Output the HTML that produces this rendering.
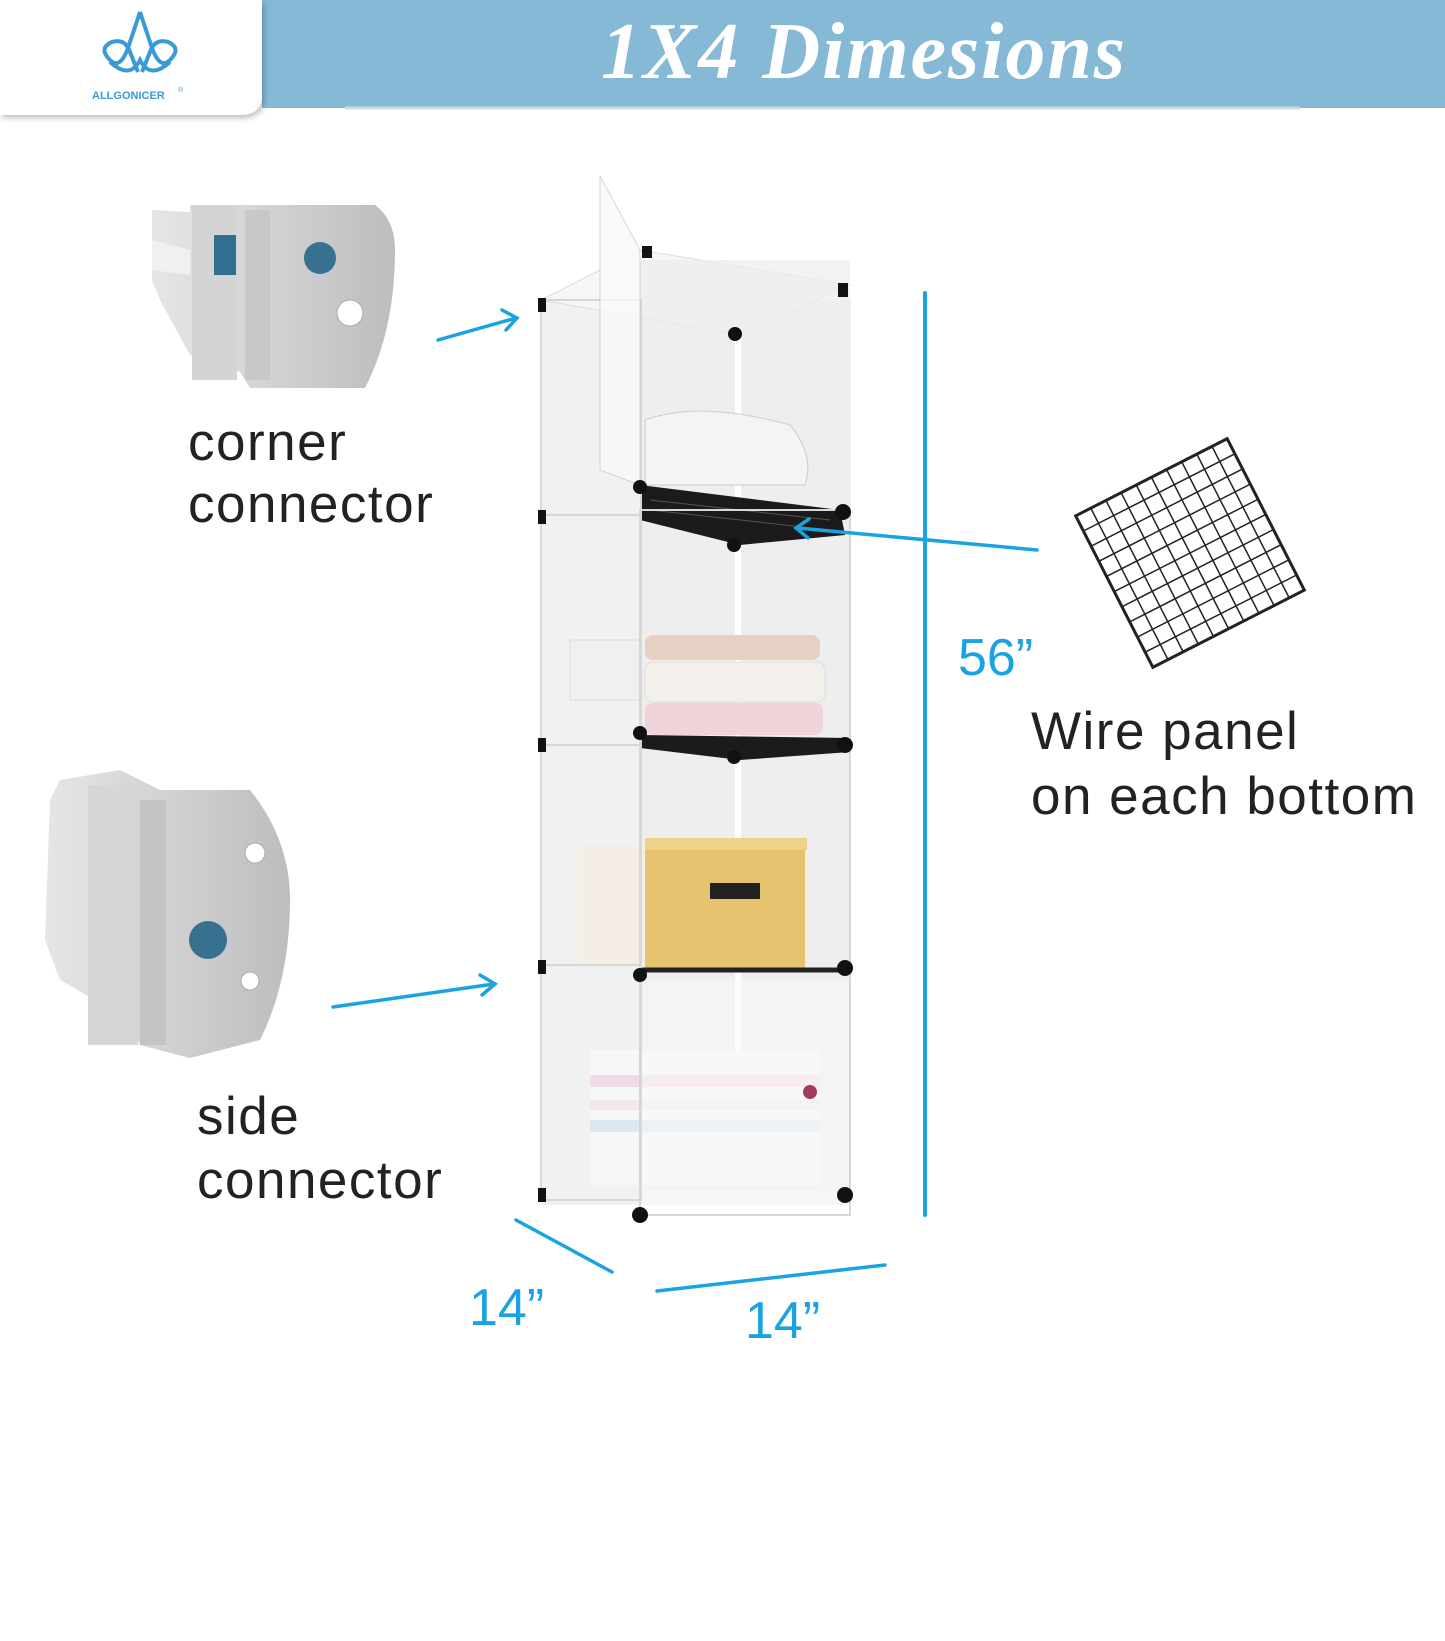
<!DOCTYPE html>
<html><head><meta charset="utf-8"><style>
html,body{margin:0;padding:0;background:#fff;}
svg{display:block;}
</style></head><body>
<svg width="1445" height="1641" viewBox="0 0 1445 1641" xmlns="http://www.w3.org/2000/svg" font-family="Liberation Sans, sans-serif">
<defs>
<linearGradient id="cg" x1="0" x2="1"><stop offset="0" stop-color="#e6e6e6"/><stop offset="1" stop-color="#bdbdbd"/></linearGradient>
<filter id="sh" x="-10%" y="-10%" width="130%" height="130%"><feDropShadow dx="2" dy="3" stdDeviation="3" flood-color="#000" flood-opacity="0.25"/></filter>
</defs>
<rect x="262" y="0" width="1183" height="108" fill="#85b9d6"/>
<line x1="345" y1="108" x2="1300" y2="108" stroke="#c9dde9" stroke-width="3"/>
<text x="864" y="78" text-anchor="middle" font-family="Liberation Serif, serif" font-style="italic" font-weight="bold" font-size="80" letter-spacing="2" fill="#fff">1X4 Dimesions</text>
<path d="M0 0 H262 V95 Q262 115 240 115 H0 Z" fill="#fff" filter="url(#sh)"/>
<g fill="none" stroke="#3a9ad6" stroke-width="4">
<path d="M140 12 L128 48 Q120 70 110 60 Q98 48 112 42 Q125 38 130 52 L138 72"/>
<path d="M140 12 L152 48 Q160 70 170 60 Q182 48 168 42 Q155 38 150 52 L142 72"/>
<path d="M110 62 Q130 80 140 60 Q150 80 170 62"/>
</g>
<text x="92" y="99" font-size="11" font-weight="bold" fill="#3a9ad6">ALLGONICER</text>
<text x="178" y="92" font-size="7" fill="#3a9ad6">®</text>
<g>
<path d="M152 210 L190 212 L190 205 L375 205 Q395 220 395 250 Q395 330 365 388 L250 388 L240 372 L190 355 L160 300 L152 280 Z" fill="url(#cg)"/>
<rect x="192" y="205" width="45" height="175" fill="#d4d4d4"/>
<rect x="245" y="210" width="25" height="170" fill="#c8c8c8"/>
<rect x="214" y="235" width="22" height="40" fill="#2f6f8f"/>
<circle cx="320" cy="258" r="16" fill="#37718f"/>
<circle cx="350" cy="313" r="13" fill="#fff" stroke="#aaa"/>
<path d="M152 240 L190 250 L190 275 L152 270 Z" fill="#f0f0f0"/>
</g>
<text x="188" y="460" font-size="53" letter-spacing="1.5" fill="#222">corner</text>
<text x="188" y="522" font-size="53" letter-spacing="1.5" fill="#222">connector</text>
<g>
<path d="M60 780 L120 770 L160 790 L250 790 Q290 840 290 900 Q290 980 260 1040 L190 1058 L140 1045 L130 1020 L60 980 L45 940 L50 800 Z" fill="url(#cg)"/>
<rect x="88" y="785" width="50" height="260" fill="#d6d6d6"/>
<rect x="140" y="800" width="26" height="245" fill="#c4c4c4"/>
<circle cx="208" cy="940" r="19" fill="#37718f"/>
<circle cx="255" cy="853" r="10" fill="#fff" stroke="#aaa"/>
<circle cx="250" cy="981" r="9" fill="#fff" stroke="#aaa"/>
</g>
<text x="197" y="1134" font-size="53" letter-spacing="1.5" fill="#222">side</text>
<text x="197" y="1198" font-size="53" letter-spacing="1.5" fill="#222">connector</text>
<g>
<rect x="541" y="300" width="310" height="905" fill="#f1f1f1"/>
<polygon points="541,300 640,250 850,285 740,335" fill="#f6f6f6" stroke="#ddd"/>
<rect x="640" y="260" width="210" height="930" fill="#ececec" opacity="0.7"/>
<line x1="738" y1="330" x2="738" y2="1180" stroke="#fff" stroke-width="6"/>
<path d="M645 420 Q700 400 790 425 Q815 455 805 485 L645 485 Z" fill="#f4f4f4" stroke="#ccc"/>
<polygon points="640,485 840,510 845,535 740,545 640,520" fill="#1b1b1b"/>
<g stroke="#555" stroke-width="1"><line x1="650" y1="500" x2="830" y2="520"/><line x1="650" y1="510" x2="830" y2="530"/></g>
<rect x="570" y="640" width="70" height="60" fill="#f0f0f0" stroke="#ddd"/>
<rect x="645" y="635" width="175" height="25" rx="8" fill="#e8cfc4"/>
<rect x="645" y="662" width="180" height="40" rx="8" fill="#f3f0ec" stroke="#ddd"/>
<rect x="645" y="703" width="178" height="32" rx="8" fill="#efd3d8"/>
<polygon points="640,735 850,738 850,752 740,760 640,748" fill="#1b1b1b"/>
<rect x="578" y="845" width="70" height="120" fill="#f5eee6"/>
<rect x="645" y="843" width="160" height="125" fill="#e6c36e"/>
<rect x="645" y="838" width="162" height="12" fill="#efd28a"/>
<rect x="710" y="883" width="50" height="16" fill="#222"/>
<line x1="640" y1="970" x2="850" y2="970" stroke="#222" stroke-width="5"/>
<rect x="590" y="1050" width="230" height="135" fill="#f7f7f7"/>
<rect x="590" y="1075" width="230" height="12" fill="#f2dbe6"/>
<rect x="590" y="1120" width="230" height="12" fill="#dde7f0"/>
<rect x="590" y="1100" width="230" height="10" fill="#f1e8ee"/>
<rect x="640" y="980" width="210" height="225" fill="#fafafa" opacity="0.55"/>
<g stroke="#d7d7d7" stroke-width="2" fill="none">
<rect x="541" y="300" width="100" height="900"/>
<rect x="640" y="510" width="210" height="705"/>
<line x1="541" y1="515" x2="640" y2="515"/><line x1="541" y1="745" x2="640" y2="745"/><line x1="541" y1="965" x2="640" y2="965"/>
</g>
<polygon points="600,176 640,250 640,485 600,470" fill="#fafafa" stroke="#ccc" opacity="0.8"/>
<g fill="#111">
<rect x="538" y="298" width="8" height="14"/><rect x="642" y="246" width="10" height="12"/><rect x="838" y="283" width="10" height="14"/>
<circle cx="735" cy="334" r="7"/><circle cx="640" cy="487" r="7"/><circle cx="843" cy="512" r="8"/><circle cx="734" cy="545" r="7"/>
<rect x="538" y="510" width="8" height="14"/><rect x="538" y="738" width="8" height="14"/><circle cx="640" cy="733" r="7"/><circle cx="845" cy="745" r="8"/><circle cx="734" cy="757" r="7"/>
<rect x="538" y="960" width="8" height="14"/><circle cx="640" cy="975" r="7"/><circle cx="845" cy="968" r="8"/>
<rect x="538" y="1188" width="8" height="14"/><circle cx="640" cy="1215" r="8"/><circle cx="845" cy="1195" r="8"/>
</g>
<circle cx="810" cy="1092" r="7" fill="#a33b5a"/>
</g>
<g stroke="#1aa3e0" stroke-width="3.5" fill="none" stroke-linecap="round">
<line x1="438" y1="340" x2="516" y2="318"/><polyline points="502,310 517,318 506,330"/>
<line x1="333" y1="1007" x2="494" y2="984"/><polyline points="480,975 495,984 482,995"/>
<line x1="1037" y1="550" x2="797" y2="528"/><polyline points="809,519 796,528 808,538"/>
<line x1="925" y1="293" x2="925" y2="1215" stroke-width="4"/>
<line x1="516" y1="1220" x2="612" y2="1272"/>
<line x1="657" y1="1291" x2="885" y2="1265"/>
</g>
<text x="958" y="675" font-size="52" fill="#1aa3e0">56”</text>
<text x="469" y="1325" font-size="52" fill="#1aa3e0">14”</text>
<text x="745" y="1338" font-size="52" fill="#1aa3e0">14”</text>
<g transform="translate(1190,553) rotate(-27)">
<rect x="-85" y="-85" width="170" height="170" fill="none" stroke="#222" stroke-width="3"/>
<g stroke="#222" stroke-width="1.5">
<line x1="-68" y1="-85" x2="-68" y2="85"/><line x1="-51" y1="-85" x2="-51" y2="85"/><line x1="-34" y1="-85" x2="-34" y2="85"/><line x1="-17" y1="-85" x2="-17" y2="85"/><line x1="0" y1="-85" x2="0" y2="85"/><line x1="17" y1="-85" x2="17" y2="85"/><line x1="34" y1="-85" x2="34" y2="85"/><line x1="51" y1="-85" x2="51" y2="85"/><line x1="68" y1="-85" x2="68" y2="85"/>
<line y1="-68" x1="-85" y2="-68" x2="85"/><line y1="-51" x1="-85" y2="-51" x2="85"/><line y1="-34" x1="-85" y2="-34" x2="85"/><line y1="-17" x1="-85" y2="-17" x2="85"/><line y1="0" x1="-85" y2="0" x2="85"/><line y1="17" x1="-85" y2="17" x2="85"/><line y1="34" x1="-85" y2="34" x2="85"/><line y1="51" x1="-85" y2="51" x2="85"/><line y1="68" x1="-85" y2="68" x2="85"/>
</g></g>
<text x="1031" y="749" font-size="53" letter-spacing="1.5" fill="#222">Wire panel</text>
<text x="1031" y="814" font-size="53" letter-spacing="1.5" fill="#222">on each bottom</text>
</svg>
</body></html>
